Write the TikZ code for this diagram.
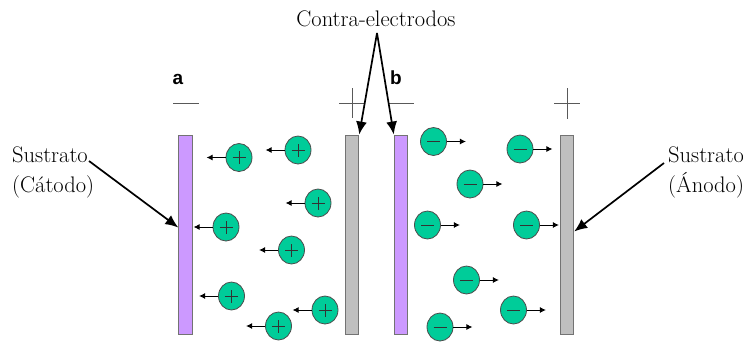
\documentclass[tikz,border=0pt]{standalone}
\usepackage{fontspec}
\usepackage{xcolor}
\usepackage{tikz}
\usetikzlibrary{arrows.meta}
\usetikzlibrary{calc}
\usetikzlibrary{shapes.geometric}
\newfontfamily\boldsans{Liberation Sans}
\definecolor{ioncolor}{RGB}{0,204,153}
\definecolor{cathodecolor}{RGB}{204,153,255}
\definecolor{anodecolor}{RGB}{191,191,191}
\tikzset{
    plate/.style={rectangle, draw=black!55, line width=0.9pt,
        minimum width=13.5pt, minimum height=199pt, inner sep=0pt},
    cathode/.style={plate, fill=cathodecolor},
    anode/.style={plate, fill=anodecolor},
    ion/.style={ellipse, draw=black!70, fill=ioncolor, line width=0.8pt,
        minimum width=26pt, minimum height=28pt, inner sep=0pt},
    cation/.style={ion, path picture={
        \draw[black!80, line width=0.9pt] (path picture bounding box.center)
            +(-6.5pt,0) -- +(6.5pt,0) +(0,-6.5pt) -- +(0,6.5pt);}},
    anion/.style={ion, path picture={
        \draw[black!80, line width=0.9pt] (path picture bounding box.center)
            +(-6.5pt,0) -- +(6.5pt,0);}},
    ionarrow/.style={line width=0.9pt, -{Latex[length=6pt,width=6pt]}},
    bigarrow/.style={line width=1.7pt, -{Latex[length=13pt,width=11pt]}},
    sign/.style={draw=black!65, line width=0.8pt},
    txt/.style={font=\fontsize{22.5}{30}\selectfont, align=left, inner sep=0pt},
    tag/.style={font=\boldsans\bfseries\fontsize{19}{22}\selectfont, inner sep=0pt}
}
\begin{document}
\begin{tikzpicture}[x=1pt, y=-1pt]
    \useasboundingbox (0,0) rectangle (743,341);
    \node[cathode] (catA) at (185.5,234.5) {};
    \node[anode] (anoA) at (352,234.5) {};
    \node[cathode] (catB) at (401,234.5) {};
    \node[anode] (anoB) at (567,234.5) {};
    \node[tag] (tagA) at (178,79) {a};
    \node[tag] (tagB) at (396,78) {b};
    \draw[sign] (173,103) -- (199,103);
    \draw[sign] (339,103) -- (364,103) (352,88) -- (352,118);
    \draw[sign] (388,103) -- (414,103);
    \draw[sign] (554,103) -- (580,103) (567,88) -- (567,119);
    \foreach \x/\y [count=\i] in {239/157.5, 298/150, 318/203, 226/227,
        291.5/250, 231.5/296, 325/310, 278.5/326} {
        \node[cation] (cat\i) at (\x,\y) {};
        \coordinate (catT\i) at ($(cat\i.west)+(-19,0)$);
        \draw[ionarrow] (cat\i) -- (catT\i);
    }
    \foreach \x/\y [count=\i] in {433.5/141.5, 520/149, 470/184, 427.5/225,
        526.5/225, 466.5/280, 513.5/310, 440/327} {
        \node[anion] (an\i) at (\x,\y) {};
        \coordinate (anT\i) at ($(an\i.east)+(19,0)$);
        \draw[ionarrow] (an\i) -- (anT\i);
    }
    \node[txt, anchor=west] (subC) at (12,172) {Sustrato\\(Cátodo)};
    \node[txt, anchor=west] (subA) at (668,172) {Sustrato\\(Ánodo)};
    \node[txt] (contra) at (376,19) {Contra-electrodos};
    \coordinate (subCend) at (89,161);
    \coordinate (subAend) at (664,163);
    \coordinate (contraend) at (377,33);
    \draw[bigarrow] (subCend) -- ($(catA.west)+(0,-7)$);
    \draw[bigarrow] (subAend) -- ($(anoB.east)+(0,-3)$);
    \draw[bigarrow] (contraend) -- (anoA.north east);
    \draw[bigarrow] (contraend) -- (catB.north west);
\end{tikzpicture}
\end{document}
